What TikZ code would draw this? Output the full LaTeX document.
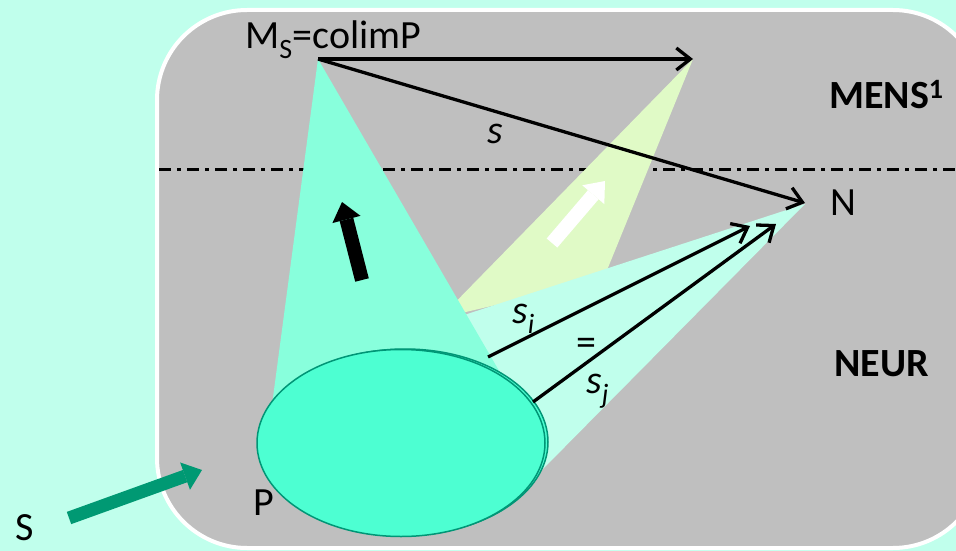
\documentclass[tikz,border=0pt]{standalone}
\usepackage{fontspec}
\setmainfont{Carlito}
\usetikzlibrary{arrows.meta}
\definecolor{bgcyan}{RGB}{192,255,236}
\definecolor{panelgray}{RGB}{191,191,191}
\definecolor{mscyan}{RGB}{136,255,220}
\definecolor{ygreen}{RGB}{224,250,198}
\definecolor{elfill}{RGB}{77,255,210}
\definecolor{eldraw}{RGB}{0,150,118}
\definecolor{sgreen}{RGB}{0,153,115}
\begin{document}
\begin{tikzpicture}[x=1pt,y=-1pt,
  lbl/.style={inner sep=0pt, font=\fontsize{40}{48}\selectfont},
  blbl/.style={inner sep=0pt, font=\fontsize{40}{48}\selectfont\bfseries},
  conn/.style={line width=3.3pt, -{Straight Barb[length=14pt,width=22pt]}},
  blockarrow/.style={line width=14pt, -{Triangle[width=29pt,length=18pt,line width=0pt]}}]
\useasboundingbox (0,0) rectangle (956,551);
\clip (0,0) rectangle (956,551);
\fill[bgcyan] (0,0) rectangle (956,551);
\draw[white, line width=4pt, fill=panelgray, rounded corners=90pt] (157,10) rectangle (983,548);
% dash-dot separation line
\draw[line width=3pt, dash pattern=on 12pt off 6pt on 4pt off 6pt] (159,169) -- (956,169);
% cones
\fill[ygreen] (693,59) -- (440,318) -- (603,280) -- cycle;
\fill[bgcyan] (805,204) -- (455,318) -- (470,420) -- (542,470) -- cycle;
\fill[mscyan] (318,59) -- (270,420) -- (516,400) -- cycle;
% ellipse P
\draw[fill=elfill, draw=eldraw, line width=1.5pt] (405,442) ellipse [x radius=143pt, y radius=93pt];
\draw[fill=elfill, draw=eldraw, line width=1.5pt] (401,443) ellipse [x radius=144pt, y radius=93.5pt];
% coordinates
\coordinate (Ms) at (318,59);
\coordinate (T) at (693,59);
\coordinate (Ntip) at (805,203);
\coordinate (si0) at (488,357);
\coordinate (si1) at (750,226);
\coordinate (sj0) at (533,402);
\coordinate (sj1) at (776,224);
\coordinate (ba0) at (362,280);
\coordinate (ba1) at (342,202);
\coordinate (wa0) at (552,243);
\coordinate (wa1) at (605,181);
\coordinate (ga0) at (69,518);
\coordinate (ga1) at (202,470);
% connectors
\draw[conn] (Ms) -- (T);
\draw[conn] (Ms) -- (Ntip);
\draw[conn] (si0) -- (si1);
\draw[conn] (sj0) -- (sj1);
% block arrows
\draw[blockarrow, black] (ba0) -- (ba1);
\draw[blockarrow, white] (wa0) -- (wa1);
\draw[blockarrow, sgreen, line width=13pt] (ga0) -- (ga1);
% labels
\node[lbl, anchor=base west] (msl) at (245,49) {M\textsubscript{S}=colimP};
\node[blbl, anchor=base west] (mens) at (829,108) {MENS\textsuperscript{1}};
\node[lbl, anchor=base west] (N) at (830,215) {N};
\node[blbl, anchor=base west] (neur) at (834,376) {NEUR};
\node[lbl, anchor=base west] (s) at (487,143) {\itshape s};
\node[lbl, anchor=base west] (si) at (512,323) {\itshape s\textsubscript{i}};
\node[lbl] (eq) at (586,347) {=};
\node[lbl, anchor=base west] (sj) at (586,393) {\itshape s\textsubscript{j}};
\node[lbl, anchor=base west] (P) at (253,515) {P};
\node[lbl, anchor=base west] (S) at (15,540) {S};
\end{tikzpicture}
\end{document}
